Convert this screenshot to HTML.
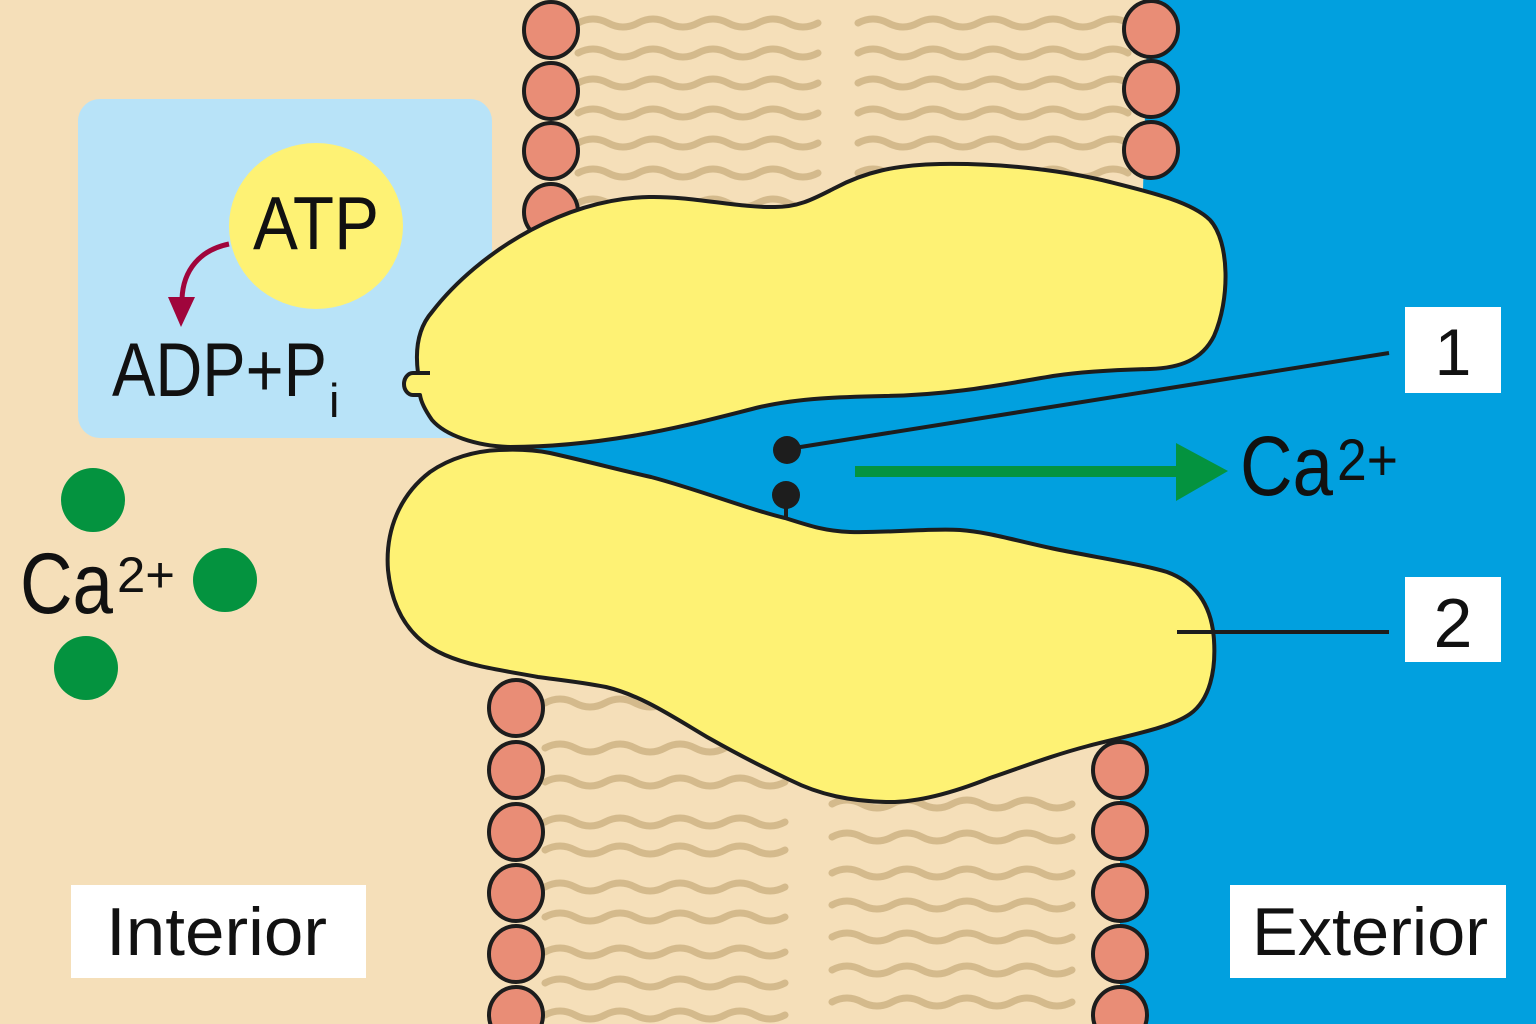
<!DOCTYPE html>
<html><head><meta charset="utf-8"><style>
html,body{margin:0;padding:0;background:#f5dfb9;}
svg{display:block;}
text{font-family:"Liberation Sans",sans-serif;fill:#111;}
</style></head><body>
<svg width="1536" height="1024" viewBox="0 0 1536 1024" xmlns="http://www.w3.org/2000/svg">
<defs>
<path id="t8" d="M0,0 q15,-8 30,0 t30,0 t30,0 t30,0 t30,0 t30,0 t30,0 t30,0" fill="none" stroke="#d4ba8c" stroke-width="7" stroke-linecap="round"/>
<path id="t9" d="M0,0 q15,-8 30,0 t30,0 t30,0 t30,0 t30,0 t30,0 t30,0 t30,0 t30,0" fill="none" stroke="#d4ba8c" stroke-width="7" stroke-linecap="round"/>
</defs>
<rect width="1536" height="1024" fill="#f5dfb9"/>
<!-- exterior blue -->
<path d="M1148,0 L1536,0 L1536,1024 L1120,1024 L1120,620 L800,540 L600,480 L520,450 L600,420 L800,380 L1143,330 L1143,190 Z" fill="#01a0df"/>
<!-- light blue box -->
<rect x="78" y="99" width="414" height="339" rx="22" fill="#b8e3f8"/>
<!-- tails top -->
<g>
<use href="#t8" x="578" y="23"/><use href="#t8" x="578" y="53"/><use href="#t8" x="578" y="83"/><use href="#t8" x="578" y="113"/><use href="#t8" x="578" y="143"/><use href="#t8" x="578" y="173"/><use href="#t8" x="578" y="203"/>
<use href="#t9" x="858" y="23"/><use href="#t9" x="858" y="53"/><use href="#t9" x="858" y="83"/><use href="#t9" x="858" y="113"/><use href="#t9" x="858" y="143"/><use href="#t9" x="858" y="173"/>
</g>
<!-- tails bottom -->
<g>
<use href="#t8" x="545" y="703"/><use href="#t8" x="545" y="748"/><use href="#t8" x="545" y="782"/><use href="#t8" x="545" y="822"/><use href="#t8" x="545" y="850"/><use href="#t8" x="545" y="887"/><use href="#t8" x="545" y="917"/><use href="#t8" x="545" y="952"/><use href="#t8" x="545" y="983"/><use href="#t8" x="545" y="1015"/>
<use href="#t8" x="832" y="804"/><use href="#t8" x="832" y="837"/><use href="#t8" x="832" y="873"/><use href="#t8" x="832" y="905"/><use href="#t8" x="832" y="937"/><use href="#t8" x="832" y="970"/><use href="#t8" x="832" y="1002"/>
</g>
<!-- heads -->
<g fill="#e98d76" stroke="#1d1d1d" stroke-width="4">
<ellipse cx="551" cy="30" rx="27" ry="28"/><ellipse cx="551" cy="91" rx="27" ry="28"/><ellipse cx="551" cy="151" rx="27" ry="28"/><ellipse cx="551" cy="212" rx="27" ry="28"/>
<ellipse cx="1151" cy="29" rx="27" ry="28"/><ellipse cx="1151" cy="89" rx="27" ry="28"/><ellipse cx="1151" cy="150" rx="27" ry="28"/>
<ellipse cx="516" cy="708" rx="27" ry="28"/><ellipse cx="516" cy="770" rx="27" ry="28"/><ellipse cx="516" cy="832" rx="27" ry="28"/><ellipse cx="516" cy="893" rx="27" ry="28"/><ellipse cx="516" cy="954" rx="27" ry="28"/><ellipse cx="516" cy="1015" rx="27" ry="28"/>
<ellipse cx="1120" cy="770" rx="27" ry="28"/><ellipse cx="1120" cy="831" rx="27" ry="28"/><ellipse cx="1120" cy="893" rx="27" ry="28"/><ellipse cx="1120" cy="954" rx="27" ry="28"/><ellipse cx="1120" cy="1015" rx="27" ry="28"/>
</g>
<!-- lower protein -->
<path d="M499,450 C520,449 535,450 550,453 C590,462 620,470 651,477 C700,490 750,510 785,518 C810,526 825,531 850,532 C890,533 930,528 960,530 C990,532 1020,542 1060,550 C1100,558 1140,564 1167,572 C1200,584 1212,610 1214,640 C1216,670 1210,700 1190,714 C1170,728 1130,735 1088,746 C1050,756 1020,768 990,778 C960,790 920,803 886,802 C850,801 820,795 790,780 C760,766 730,750 707,737 C670,715 640,695 606,687 C580,682 560,680 538,677 C500,670 470,666 445,655 C410,640 392,610 388,570 C385,530 400,495 430,472 C450,458 475,451 499,450 Z" fill="#fef274" stroke="#1d1d1d" stroke-width="4"/>
<!-- upper protein -->
<path d="M531,230 C565,212 605,198 649,197 C690,196 740,208 775,207 C800,207 815,198 835,188 C865,172 895,165 940,164 C1010,163 1070,172 1110,182 C1150,192 1192,202 1210,220 C1230,242 1230,300 1214,336 C1202,360 1180,368 1150,369 C1110,370 1080,372 1053,376 C1000,385 950,395 885,396 C840,397 800,398 760,407 C720,417 680,428 632,436 C590,443 550,447 510,447 C475,446 445,435 432,420 C425,410 421,402 420,395 L413,395 A9,11 0 0 1 413,373 L418,373 C415,350 418,328 432,312 C455,282 490,252 531,230 Z" fill="#fef274" stroke="#1d1d1d" stroke-width="4" stroke-linejoin="round"/>
<line x1="418" y1="373" x2="430" y2="373" stroke="#1d1d1d" stroke-width="4"/>
<!-- dots & leader lines -->
<line x1="788" y1="449" x2="1389" y2="353" stroke="#1d1d1d" stroke-width="4"/>
<line x1="786" y1="495" x2="786" y2="518" stroke="#1d1d1d" stroke-width="4"/>
<circle cx="787" cy="450" r="14" fill="#1d1d1d"/>
<circle cx="786" cy="495" r="14" fill="#1d1d1d"/>
<line x1="1177" y1="632" x2="1389" y2="632" stroke="#1d1d1d" stroke-width="4"/>
<!-- green arrow -->
<rect x="855" y="466" width="325" height="11" fill="#04933f"/>
<polygon points="1176,443 1228,471 1176,501" fill="#04933f"/>
<!-- number boxes -->
<rect x="1405" y="307" width="96" height="86" fill="#fff"/>
<rect x="1405" y="577" width="96" height="85" fill="#fff"/>
<text x="1453" y="375" font-size="66" text-anchor="middle">1</text>
<text x="1453" y="647" font-size="70" text-anchor="middle">2</text>
<!-- right Ca -->
<text x="1240" y="495" font-size="84" textLength="93" lengthAdjust="spacingAndGlyphs">Ca</text>
<text x="1337" y="480" font-size="58" textLength="61" lengthAdjust="spacingAndGlyphs">2+</text>
<!-- ATP -->
<ellipse cx="316" cy="226" rx="87" ry="83" fill="#fef274"/>
<text x="253" y="249" font-size="75" textLength="126" lengthAdjust="spacingAndGlyphs">ATP</text>
<path d="M229,244 C200,250 183,270 182,299" fill="none" stroke="#a0053c" stroke-width="5"/>
<polygon points="168,297 195,297 181,327" fill="#a0053c"/>
<text x="112" y="396" font-size="76" textLength="215" lengthAdjust="spacingAndGlyphs">ADP+P</text>
<text x="329" y="417" font-size="47">i</text>
<!-- left Ca -->
<circle cx="93" cy="500" r="32" fill="#04933f"/>
<circle cx="225" cy="580" r="32" fill="#04933f"/>
<circle cx="86" cy="668" r="32" fill="#04933f"/>
<text x="20" y="613" font-size="86" textLength="93" lengthAdjust="spacingAndGlyphs">Ca</text>
<text x="117" y="592" font-size="50" textLength="58" lengthAdjust="spacingAndGlyphs">2+</text>
<!-- Interior / Exterior -->
<rect x="71" y="885" width="295" height="93" fill="#fff"/>
<text x="106" y="955" font-size="68" textLength="221" lengthAdjust="spacingAndGlyphs">Interior</text>
<rect x="1230" y="885" width="276" height="93" fill="#fff"/>
<text x="1252" y="955" font-size="68" textLength="236" lengthAdjust="spacingAndGlyphs">Exterior</text>
</svg>
</body></html>
